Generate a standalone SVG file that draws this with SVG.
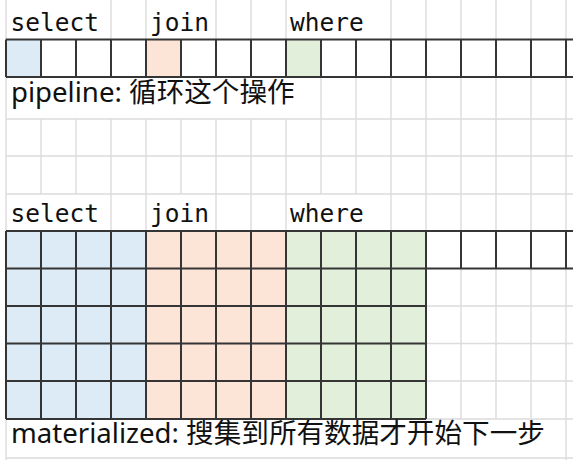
<svg xmlns="http://www.w3.org/2000/svg" width="573" height="460" viewBox="0 0 573 460">
<style>
.lg{stroke:#dcdcdc;stroke-width:1.4;fill:none}
.dk{stroke:#353535;stroke-width:2;fill:none}
.b{fill:#ddebf7}.p{fill:#fce4d6}.g{fill:#e2efda}
.mono{font-family:"DejaVu Sans Mono","Liberation Mono",monospace;font-size:24.5px;fill:#111}
.lbl{font-family:"Noto Sans","Noto Sans CJK SC",sans-serif;font-size:27.6px;fill:#111}
</style>
<rect width="573" height="460" fill="#fff"/>
<g id="sheet-grid">
<path class="lg" d="M6 0V39.5M111 0V39.5M146 0V39.5M216 0V39.5M251 0V39.5M286 0V39.5M391 0V39.5M426 0V39.5M461 0V39.5M496 0V39.5M531 0V39.5M566 0V39.5"/>
<path class="lg" d="M6 77V119M321 77V119M356 77V119M391 77V119M426 77V119M461 77V119M496 77V119M531 77V119M566 77V119"/>
<path class="lg" d="M6 119V194M41 119V194M76 119V194M111 119V194M146 119V194M181 119V194M216 119V194M251 119V194M286 119V194M321 119V194M356 119V194M391 119V194M426 119V194M461 119V194M496 119V194M531 119V194M566 119V194"/>
<path class="lg" d="M6 194V231M111 194V231M146 194V231M216 194V231M251 194V231M286 194V231M391 194V231M426 194V231M461 194V231M496 194V231M531 194V231M566 194V231"/>
<path class="lg" d="M461 268.5V419M496 268.5V419M531 268.5V419M566 268.5V419"/>
<path class="lg" d="M6 419V460M566 419V460"/>
<path class="lg" d="M6 119H573M6 156H573M6 194H573M426 306H573M426 343.5H573M426 381H573M426 419H573M6 458H573"/>
</g>
<g id="pipeline">
<rect class="b" x="6" y="39.5" width="35" height="37.5"/>
<rect class="p" x="146" y="39.5" width="35" height="37.5"/>
<rect class="g" x="286" y="39.5" width="35" height="37.5"/>
<path class="dk" d="M6 39.5H573M6 77H573M6 39.5V77M41 39.5V77M76 39.5V77M111 39.5V77M146 39.5V77M181 39.5V77M216 39.5V77M251 39.5V77M286 39.5V77M321 39.5V77M356 39.5V77M391 39.5V77M426 39.5V77M461 39.5V77M496 39.5V77M531 39.5V77M566 39.5V77"/>
</g>
<g id="materialized">
<rect class="b" x="6" y="231" width="140" height="188"/>
<rect class="p" x="146" y="231" width="140" height="188"/>
<rect class="g" x="286" y="231" width="140" height="188"/>
<path class="dk" d="M6 231H573M6 268.5H573M6 306H426M6 343.5H426M6 381H426M6 419H426"/>
<path class="dk" d="M6 231V419M41 231V419M76 231V419M111 231V419M146 231V419M181 231V419M216 231V419M251 231V419M286 231V419M321 231V419M356 231V419M391 231V419M426 231V419M461 231V268.5M496 231V268.5M531 231V268.5M566 231V268.5"/>
</g>
<g id="labels-top">
<text class="mono" x="10.5" y="31">select</text>
<text class="mono" x="150" y="31">join</text>
<text class="mono" x="290" y="31">where</text>
<text class="lbl" x="11" y="101.5">pipeline: 循环这个操作</text>
</g>
<g id="labels-bottom">
<text class="mono" x="10.5" y="221.5">select</text>
<text class="mono" x="150" y="221.5">join</text>
<text class="mono" x="290" y="221.5">where</text>
<text class="lbl" x="11" y="443">materialized: 搜集到所有数据才开始下一步</text>
</g>
<g id="connectors"/>
</svg>
